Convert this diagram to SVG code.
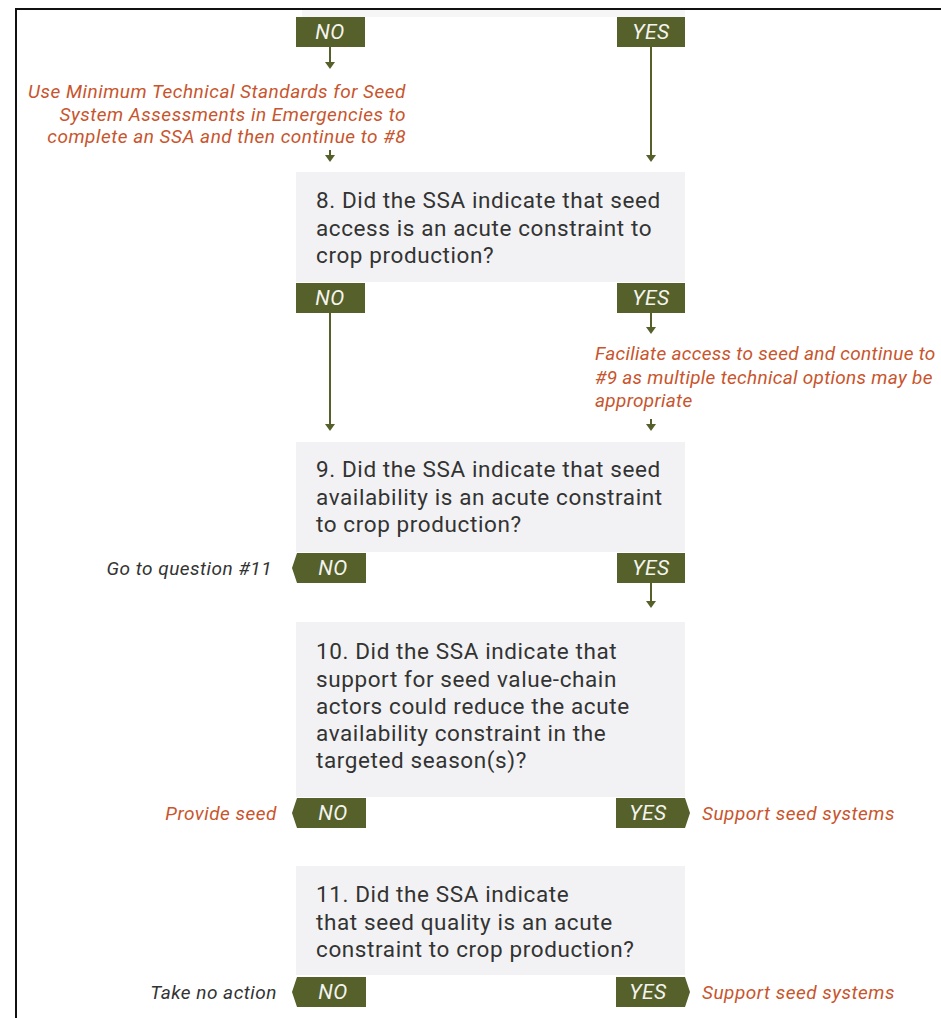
<svg xmlns="http://www.w3.org/2000/svg" width="941" height="1018" viewBox="0 0 941 1018">
<style>
.q{fill:#f2f2f4}
.qt{font-family:Roboto,"Liberation Sans",sans-serif;font-size:22.5px;letter-spacing:0.6px;fill:#333}
.tag{fill:#55602a}
.tt{font-family:Roboto,"Liberation Sans",sans-serif;font-size:21px;letter-spacing:0.5px;font-style:italic;fill:#f4f4ee;text-anchor:middle}
.or{font-family:Roboto,"Liberation Sans",sans-serif;font-size:19px;letter-spacing:0.5px;font-style:italic;fill:#c8552d}
.gr{font-family:Roboto,"Liberation Sans",sans-serif;font-size:19px;letter-spacing:0.5px;font-style:italic;fill:#333}
.ln{stroke:#55602a;stroke-width:2;fill:none}
.hd{fill:#55602a}
</style>
<rect width="941" height="1018" fill="#fff"/>
<path d="M16,1018 V9 H941" stroke="#111" stroke-width="2" fill="none"/>
<rect x="302" y="10" width="383" height="7" fill="#f6f6f7"/>

<g id="connectors">
<path class="ln" d="M330,47 V62"/><path class="hd" d="M325,62 H335 L330,69 Z"/>
<path class="ln" d="M330,150 V155"/><path class="hd" d="M325,155 H335 L330,162 Z"/>
<path class="ln" d="M651,47 V155"/><path class="hd" d="M646,155 H656 L651,162 Z"/>
<path class="ln" d="M330,313 V424"/><path class="hd" d="M325,424 H335 L330,431 Z"/>
<path class="ln" d="M651,313 V327"/><path class="hd" d="M646,327 H656 L651,334 Z"/>
<path class="ln" d="M651,419 V424"/><path class="hd" d="M646,424 H656 L651,431 Z"/>
<path class="ln" d="M651,583 V601"/><path class="hd" d="M646,601 H656 L651,608 Z"/>
</g>

<g id="top-no"><rect class="tag" x="296" y="17" width="69" height="30"/><text class="tt" x="330" y="39">NO</text></g>
<g id="top-yes"><rect class="tag" x="617" y="17" width="68" height="30"/><text class="tt" x="651" y="39">YES</text></g>
<g id="note-mts"><text class="or" text-anchor="end"><tspan x="406" y="98">Use Minimum Technical Standards for Seed</tspan><tspan x="406" y="121">System Assessments in Emergencies to</tspan><tspan x="406" y="143">complete an SSA and then continue to #8</tspan></text></g>

<g id="q8"><rect class="q" x="296" y="172" width="389" height="110"/>
<text class="qt"><tspan x="316" y="208">8. Did the SSA indicate that seed</tspan><tspan x="316" y="236">access is an acute constraint to</tspan><tspan x="316" y="263">crop production?</tspan></text></g>
<g id="q8-no"><rect class="tag" x="296" y="283" width="69" height="30"/><text class="tt" x="330" y="305">NO</text></g>
<g id="q8-yes"><rect class="tag" x="617" y="283" width="68" height="30"/><text class="tt" x="651" y="305">YES</text></g>
<g id="note-access"><text class="or" style="letter-spacing:0.3px"><tspan x="595" y="360">Faciliate access to seed and continue to</tspan><tspan x="595" y="384">#9 as multiple technical options may be</tspan><tspan x="595" y="407">appropriate</tspan></text></g>

<g id="q9"><rect class="q" x="296" y="442" width="389" height="110"/>
<text class="qt"><tspan x="316" y="477">9. Did the SSA indicate that seed</tspan><tspan x="316" y="505">availability is an acute constraint</tspan><tspan x="316" y="532">to crop production?</tspan></text></g>
<g id="q9-no"><path class="tag" d="M297,553 H366 V583 H297 L292,568 Z"/><text class="tt" x="333" y="575">NO</text><text class="gr" x="272" y="575" text-anchor="end">Go to question #11</text></g>
<g id="q9-yes"><rect class="tag" x="617" y="553" width="68" height="30"/><text class="tt" x="651" y="575">YES</text></g>

<g id="q10"><rect class="q" x="296" y="622" width="389" height="175"/>
<text class="qt"><tspan x="316" y="659">10. Did the SSA indicate that</tspan><tspan x="316" y="687">support for seed value-chain</tspan><tspan x="316" y="714">actors could reduce the acute</tspan><tspan x="316" y="741">availability constraint in the</tspan><tspan x="316" y="768">targeted season(s)?</tspan></text></g>
<g id="q10-no"><path class="tag" d="M297,798 H366 V828 H297 L292,813 Z"/><text class="tt" x="333" y="820">NO</text><text class="or" x="277" y="820" text-anchor="end">Provide seed</text></g>
<g id="q10-yes"><path class="tag" d="M616,798 H685 L690,813 L685,828 H616 Z"/><text class="tt" x="648" y="820">YES</text><text class="or" x="702" y="820">Support seed systems</text></g>

<g id="q11"><rect class="q" x="296" y="866" width="389" height="109"/>
<text class="qt"><tspan x="316" y="902">11. Did the SSA indicate</tspan><tspan x="316" y="930">that seed quality is an acute</tspan><tspan x="316" y="957">constraint to crop production?</tspan></text></g>
<g id="q11-no"><path class="tag" d="M297,977 H366 V1007 H297 L292,992 Z"/><text class="tt" x="333" y="999">NO</text><text class="gr" x="277" y="999" text-anchor="end">Take no action</text></g>
<g id="q11-yes"><path class="tag" d="M616,977 H685 L690,992 L685,1007 H616 Z"/><text class="tt" x="648" y="999">YES</text><text class="or" x="702" y="999">Support seed systems</text></g>
</svg>
